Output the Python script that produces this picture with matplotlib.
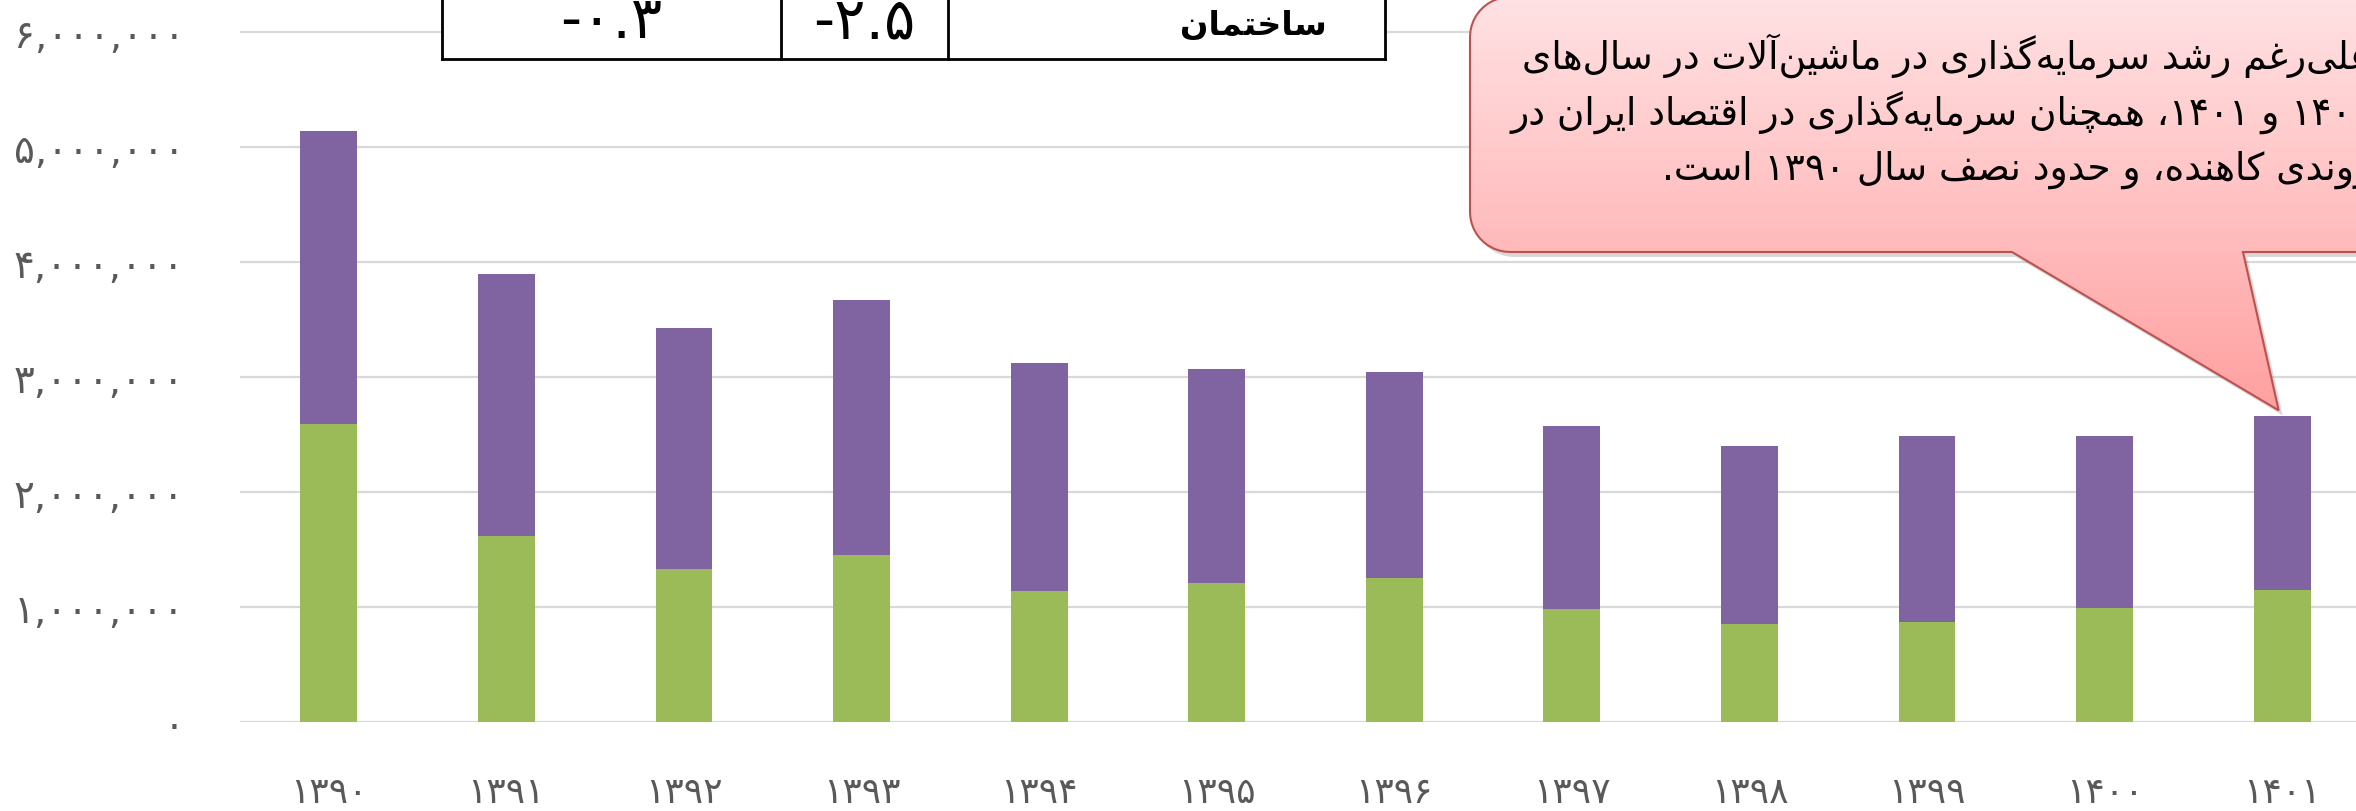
import re
import numpy as np
import matplotlib.pyplot as plt
from matplotlib.patches import PathPatch
from matplotlib.path import Path

# data
years = ['۱۳۹۰', '۱۳۹۱', '۱۳۹۲', '۱۳۹۳', '۱۳۹۴', '۱۳۹۵',
         '۱۳۹۶', '۱۳۹۷', '۱۳۹۸', '۱۳۹۹', '۱۴۰۰', '۱۴۰۱']
machinery = [2590000, 1620000, 1330000, 1450000, 1140000, 1210000,
             1250000, 980000, 850000, 870000, 990000, 1145000]
building = [2550000, 2280000, 2100000, 2220000, 1980000, 1860000,
            1790000, 1590000, 1550000, 1620000, 1500000, 1515000]
table_values = ['-۰.۳', '-۲.۵']
table_label = 'ساختمان'
note_lines = ['علی‌رغم رشد سرمایه‌گذاری در ماشین‌آلات در سال‌های',
              '۱۴۰۰ و ۱۴۰۱، همچنان سرمایه‌گذاری در اقتصاد ایران در',
              'روندی کاهنده، و حدود نصف سال ۱۳۹۰ است.']

# --- minimal persian shaping (no raqm in matplotlib) ---
FORMS = {
    'ا': ('\uFE8D', '\uFE8E', None, None),
    'آ': ('\uFE81', '\uFE82', None, None),
    'د': ('\uFEA9', '\uFEAA', None, None),
    'ذ': ('\uFEAB', '\uFEAC', None, None),
    'ر': ('\uFEAD', '\uFEAE', None, None),
    'ز': ('\uFEAF', '\uFEB0', None, None),
    'و': ('\uFEED', '\uFEEE', None, None),
    'ب': ('\uFE8F', '\uFE90', '\uFE91', '\uFE92'),
    'پ': ('\uFB56', '\uFB57', '\uFB58', '\uFB59'),
    'ت': ('\uFE95', '\uFE96', '\uFE97', '\uFE98'),
    'ج': ('\uFE9D', '\uFE9E', '\uFE9F', '\uFEA0'),
    'چ': ('\uFB7A', '\uFB7B', '\uFB7C', '\uFB7D'),
    'ح': ('\uFEA1', '\uFEA2', '\uFEA3', '\uFEA4'),
    'خ': ('\uFEA5', '\uFEA6', '\uFEA7', '\uFEA8'),
    'س': ('\uFEB1', '\uFEB2', '\uFEB3', '\uFEB4'),
    'ش': ('\uFEB5', '\uFEB6', '\uFEB7', '\uFEB8'),
    'ص': ('\uFEB9', '\uFEBA', '\uFEBB', '\uFEBC'),
    'ع': ('\uFEC9', '\uFECA', '\uFECB', '\uFECC'),
    'غ': ('\uFECD', '\uFECE', '\uFECF', '\uFED0'),
    'ف': ('\uFED1', '\uFED2', '\uFED3', '\uFED4'),
    'ق': ('\uFED5', '\uFED6', '\uFED7', '\uFED8'),
    'ک': ('\uFB8E', '\uFB8F', '\uFB90', '\uFB91'),
    'گ': ('\uFB92', '\uFB93', '\uFB94', '\uFB95'),
    'ل': ('\uFEDD', '\uFEDE', '\uFEDF', '\uFEE0'),
    'م': ('\uFEE1', '\uFEE2', '\uFEE3', '\uFEE4'),
    'ن': ('\uFEE5', '\uFEE6', '\uFEE7', '\uFEE8'),
    'ه': ('\uFEE9', '\uFEEA', '\uFEEB', '\uFEEC'),
    'ی': ('\uFBFC', '\uFBFD', '\uFBFE', '\uFBFF'),
}
LAM_ALEF = {'ا': ('\uFEFB', '\uFEFC'), 'آ': ('\uFEF5', '\uFEF6')}


def fa(text):
    out = []
    i = 0
    n = len(text)
    while i < n:
        c = text[i]
        if c not in FORMS:
            if c != '\u200c':
                out.append(c)
            i += 1
            continue
        prev = i > 0 and text[i-1] in FORMS and FORMS[text[i-1]][2] is not None
        if c == 'ل' and i + 1 < n and text[i+1] in LAM_ALEF:
            out.append(LAM_ALEF[text[i+1]][1 if prev else 0])
            i += 2
            continue
        nxt = FORMS[c][2] is not None and i + 1 < n and text[i+1] in FORMS
        k = 3 if (prev and nxt) else 1 if prev else 2 if nxt else 0
        out.append(FORMS[c][k])
        i += 1
    s = ''.join(out)
    parts = re.split(r'([۰-۹]+)', s)[::-1]
    return ''.join(p if re.fullmatch(r'[۰-۹]+', p) else p[::-1] for p in parts)


def fa_num(v):
    return '{:,}'.format(int(v)).translate(str.maketrans('0123456789', '۰۱۲۳۴۵۶۷۸۹'))


W, H = 2356, 812
fig = plt.figure(figsize=(W / 100, H / 100), dpi=100)
ax = fig.add_axes([240 / W, 89 / H, 2131 / W, 759 / H])

x = np.arange(len(years))
ax.bar(x, machinery, width=0.32, color='#9BBB59', zorder=3)
ax.bar(x, building, width=0.32, bottom=machinery, color='#8064A2', zorder=3)
ax.set_xlim(-0.5, 11.5)
ax.set_ylim(0, 6.6e6)
ticks = np.arange(0, 6000001, 1000000)
ax.set_yticks(ticks)
ax.set_yticklabels([fa_num(t) for t in ticks], fontsize=28, color='#595959')
ax.set_xticks(x)
ax.set_xticklabels(years, fontsize=26, color='#595959')
ax.tick_params(axis='y', length=0, pad=40)
ax.tick_params(axis='x', length=0, pad=38)
ax.grid(axis='y', color='#D9D9D9', lw=1.6, zorder=0)
for s in ax.spines.values():
    s.set_visible(False)

# overlay in pixel coords (y down) for the table and callout
ov = fig.add_axes([0, 0, 1, 1])
ov.set_xlim(0, W)
ov.set_ylim(H, 0)
ov.axis('off')

# table fragment at top
ov.fill([442, 1385, 1385, 442], [-5, -5, 60, 60], color='white', zorder=2)
ov.plot([442, 1385], [60, 60], color='black', lw=2, zorder=3)
for xv in [442, 781, 948, 1385]:
    ov.plot([xv, xv], [-5, 60], color='black', lw=2, zorder=3)
ov.text(611, 22, table_values[0], ha='center', va='center', fontsize=42, zorder=4)
ov.text(864, 22, table_values[1], ha='center', va='center', fontsize=42, zorder=4)
ov.text(1327, 26, fa(table_label), ha='right', va='center', fontsize=24,
        fontweight='bold', zorder=4)

# callout bubble
tip = ov.transData.inverted().transform(
    ax.transData.transform((x[-1] - 0.02, machinery[-1] + building[-1] + 50000)))
left, right, top, bottom, r = 1470, 2700, -2, 253, 40
t1 = np.linspace(np.pi, np.pi / 2, 12)
t2 = np.linspace(1.5 * np.pi, np.pi, 12)
verts = [(left, top + r), (left, bottom - r)]
verts += [(left + r + r * np.cos(t), bottom - r + r * np.sin(t)) for t in t1]
verts += [(2012, bottom), tuple(tip), (2243, bottom), (right, bottom), (right, top), (left + r, top)]
verts += [(left + r + r * np.cos(t), top + r + r * np.sin(t)) for t in t2]
verts.append(verts[0])
path = Path(verts, closed=True)
shadow = Path(np.array(verts) + [4, 5], closed=True)
ov.add_patch(PathPatch(shadow, facecolor='#808080', edgecolor='none', alpha=0.3, zorder=5))
clip = PathPatch(path, facecolor='none', edgecolor='none', zorder=6)
ov.add_patch(clip)
grad = np.linspace(0, 1, 256)[:, None, None]
c_top = np.array([255, 226, 228]) / 255
c_bot = np.array([255, 160, 160]) / 255
img = c_top + (c_bot - c_top) * grad
im = ov.imshow(img, extent=(left, right, tip[1], top), origin='upper', aspect='auto', zorder=6)
im.set_clip_path(clip)
ov.add_patch(PathPatch(path, facecolor='none', edgecolor='#C0504D', lw=1.5, zorder=7))
ov.set_xlim(0, W)
ov.set_ylim(H, 0)

for i, line in enumerate(note_lines):
    ov.text(2372, 56 + 57 * i, fa(line), ha='right', va='center', fontsize=27, zorder=8)

fig.savefig('out.png', dpi=100)
